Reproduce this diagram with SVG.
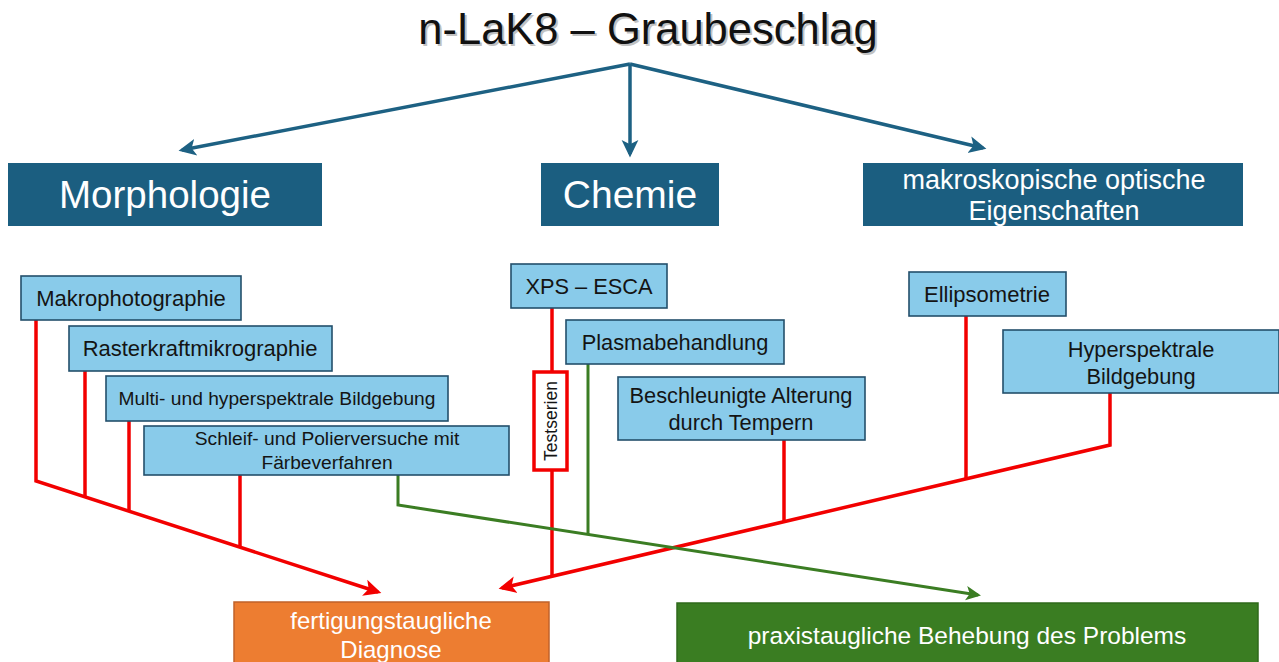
<svg xmlns="http://www.w3.org/2000/svg" width="1279" height="662" viewBox="0 0 1279 662">
<defs>
<style>
text{font-family:"Liberation Sans",Arial,sans-serif;text-anchor:middle}
.hdr rect{fill:#1b5e80}
.hdr text{fill:#fff}
.sub rect{fill:#89cbea;stroke:#234f6b;stroke-width:1.6}
.sub text{fill:#141414}
.top{stroke:#1d6183;stroke-width:3.5;fill:none}
.red{stroke:#f20000;stroke-width:3.5;fill:none;stroke-linejoin:miter}
.grn{stroke:#3b7d23;stroke-width:3;fill:none}
</style>
<marker id="ab" markerWidth="6" markerHeight="6" refX="4" refY="3" orient="auto" markerUnits="strokeWidth"><path d="M0,0.6 L5,3 L0,5.4 L1.2,3 Z" fill="#1d6183"/></marker>
<marker id="ar" markerWidth="6" markerHeight="6" refX="4" refY="3" orient="auto" markerUnits="strokeWidth"><path d="M0,0.6 L5,3 L0,5.4 L1.2,3 Z" fill="#f20000"/></marker>
<marker id="ag" markerWidth="6" markerHeight="6" refX="4" refY="3" orient="auto" markerUnits="strokeWidth"><path d="M0,0.6 L5,3 L0,5.4 L1.2,3 Z" fill="#3b7d23"/></marker>
</defs>
<rect width="1279" height="662" fill="#fff"/>
<g id="title">
<text x="650" y="46" font-size="43.5" fill="#999" opacity="0.6">n-LaK8 – Graubeschlag</text>
<text x="648" y="44" font-size="43.5" fill="#111">n-LaK8 – Graubeschlag</text>
</g>
<g id="connectors">
<path class="top" d="M630,64 L182,150" marker-end="url(#ab)"/>
<path class="top" d="M630,64 L630,154" marker-end="url(#ab)"/>
<path class="top" d="M630,64 L983,148" marker-end="url(#ab)"/>
<path class="red" d="M36,320 L36,481 L378,592" marker-end="url(#ar)"/>
<path class="red" d="M85,371 L85,497"/>
<path class="red" d="M129,421 L129,511"/>
<path class="red" d="M240,475 L240,547"/>
<path class="red" d="M1110,393 L1110,445 L502,588" marker-end="url(#ar)"/>
<path class="red" d="M966,316 L966,479"/>
<path class="red" d="M784,440 L784,522"/>
<path class="red" d="M552,308 L552,371"/>
<path class="red" d="M552,470 L552,576"/>
<path class="grn" d="M398,475 L398,505 L978,595" marker-end="url(#ag)"/>
<path class="grn" d="M588,364 L588,535"/>
</g>
<g id="morphologie" class="hdr"><rect x="8" y="163" width="314" height="63"/><text x="165" y="208" font-size="38.5">Morphologie</text></g>
<g id="chemie" class="hdr"><rect x="541" y="163" width="178" height="63"/><text x="630" y="208" font-size="39">Chemie</text></g>
<g id="optik" class="hdr"><rect x="863" y="163" width="380" height="63"/><text x="1054" y="189" font-size="27">makroskopische optische</text><text x="1054" y="220" font-size="27">Eigenschaften</text></g>
<g id="makrophotographie" class="sub"><rect x="21" y="276" width="220" height="44"/><text x="131" y="306" font-size="22">Makrophotographie</text></g>
<g id="rasterkraft" class="sub"><rect x="69" y="326" width="263" height="45"/><text x="200" y="356" font-size="22">Rasterkraftmikrographie</text></g>
<g id="multispektral" class="sub"><rect x="106" y="376" width="342" height="45"/><text x="277" y="405" font-size="19.2">Multi- und hyperspektrale Bildgebung</text></g>
<g id="schleif" class="sub"><rect x="144" y="426" width="365" height="49"/><text x="327" y="445" font-size="19.2">Schleif- und Polierversuche mit</text><text x="327" y="469" font-size="19.2">Färbeverfahren</text></g>
<g id="xps" class="sub"><rect x="511" y="264" width="156" height="44"/><text x="589" y="294" font-size="21.8">XPS – ESCA</text></g>
<g id="plasma" class="sub"><rect x="566" y="320" width="218" height="44"/><text x="675" y="350" font-size="21.8">Plasmabehandlung</text></g>
<g id="alterung" class="sub"><rect x="618" y="377" width="247" height="63"/><text x="741" y="403" font-size="21.8">Beschleunigte Alterung</text><text x="741" y="430" font-size="21.8">durch Tempern</text></g>
<g id="ellipsometrie" class="sub"><rect x="909" y="272" width="157" height="44"/><text x="987" y="302" font-size="22">Ellipsometrie</text></g>
<g id="hyperspektral" class="sub"><rect x="1003" y="330" width="276" height="63"/><text x="1141" y="357" font-size="21.8">Hyperspektrale</text><text x="1141" y="384" font-size="21.8">Bildgebung</text></g>
<g id="testserien"><rect x="534" y="372" width="33" height="98" fill="#fff" stroke="#f20000" stroke-width="3.5"/><text transform="translate(557,421) rotate(-90)" font-size="17.5" fill="#141414">Testserien</text></g>
<g id="diagnose"><rect x="234" y="602" width="315" height="70" fill="#ed7d31" stroke="#c0622a" stroke-width="1.5"/><text x="391" y="629" font-size="24" fill="#fff">fertigungstaugliche</text><text x="391" y="658" font-size="24" fill="#fff">Diagnose</text></g>
<g id="behebung"><rect x="677" y="603" width="581" height="70" fill="#3a7d22" stroke="#2f6a1b" stroke-width="1.5"/><text x="967" y="644" font-size="24.5" fill="#fff">praxistaugliche Behebung des Problems</text></g>
</svg>
